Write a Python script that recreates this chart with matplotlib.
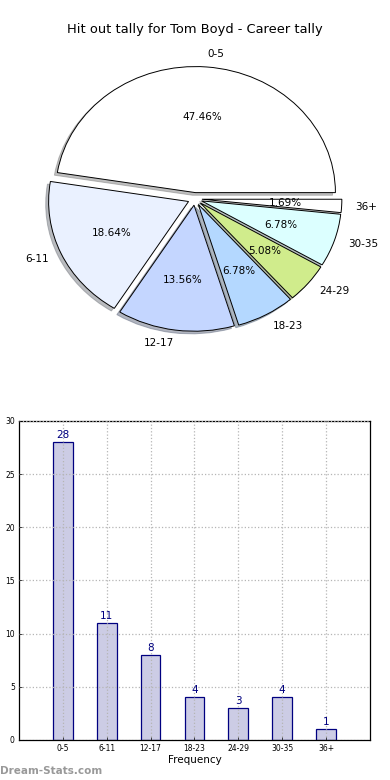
import matplotlib
matplotlib.use("Agg")
import matplotlib.pyplot as plt

categories = ["0-5", "6-11", "12-17", "18-23", "24-29", "30-35", "36+"]
counts = [28, 11, 8, 4, 3, 4, 1]
pie_colors = ["#ffffff", "#eaf1ff", "#c4d6ff", "#b4d8ff", "#d0ec8c", "#dcffff", "#ffffff"]
yticks = [0, 5, 10, 15, 20, 25, 30]

fig = plt.figure(figsize=(3.9, 7.8), dpi=100)

# Pie (axes not square -> slightly flattened pie as in the reference)
axp = fig.add_axes([0.0513, 0.543, 0.897, 0.404])
wedges, texts, autotexts = axp.pie(
    counts, labels=categories, colors=pie_colors, autopct="%.2f%%",
    explode=[0.05] * len(counts),
    shadow={"ox": -0.015, "oy": -0.015, "shade": 0.5},
    startangle=0,
    wedgeprops=dict(edgecolor="black", linewidth=0.7),
    textprops=dict(fontsize=7.5),
)
axp.set_aspect("auto")
axp.set_xlim(-1.25, 1.25)
axp.set_ylim(-1.25, 1.25)
fig.text(0.5, 1 - 30 / 780, "Hit out tally for Tom Boyd - Career tally",
         ha="center", va="center", fontsize=9.4)

# Bars
axb = fig.add_axes([0.0487, 0.0513, 0.9, 0.409])
x = list(range(len(categories)))
bars = axb.bar(x, counts, width=0.45, color=(0, 0, 0.5, 0.2),
               edgecolor="#000080", linewidth=0.9, zorder=2)
for xi, c in zip(x, counts):
    axb.text(xi, c + 0.2, str(c), ha="center", va="bottom", fontsize=7.5, color="#000080")
axb.set_xlim(-1, 7)
axb.set_ylim(0, 30)
axb.set_xticks(x)
axb.set_xticklabels(categories, fontsize=5.5)
axb.set_yticks(yticks)
axb.set_yticklabels([str(t) for t in yticks], fontsize=5.5)
axb.tick_params(length=2, width=0.5, direction="in", pad=3)
axb.grid(True, linestyle=":", color="#b5b5b5", linewidth=0.9, zorder=3)
axb.set_axisbelow(False)
axb.set_xlabel("Frequency", fontsize=7.5, labelpad=1)
axb.set_ylabel("Stat Value", fontsize=7.5, labelpad=3)
for s in axb.spines.values():
    s.set_linewidth(0.9)

fig.text(0.0, 1 - 771 / 780, "Dream-Stats.com", ha="left", va="center",
         fontsize=7.5, color="#999999", fontweight="bold")

fig.savefig("out.png", dpi=100)
